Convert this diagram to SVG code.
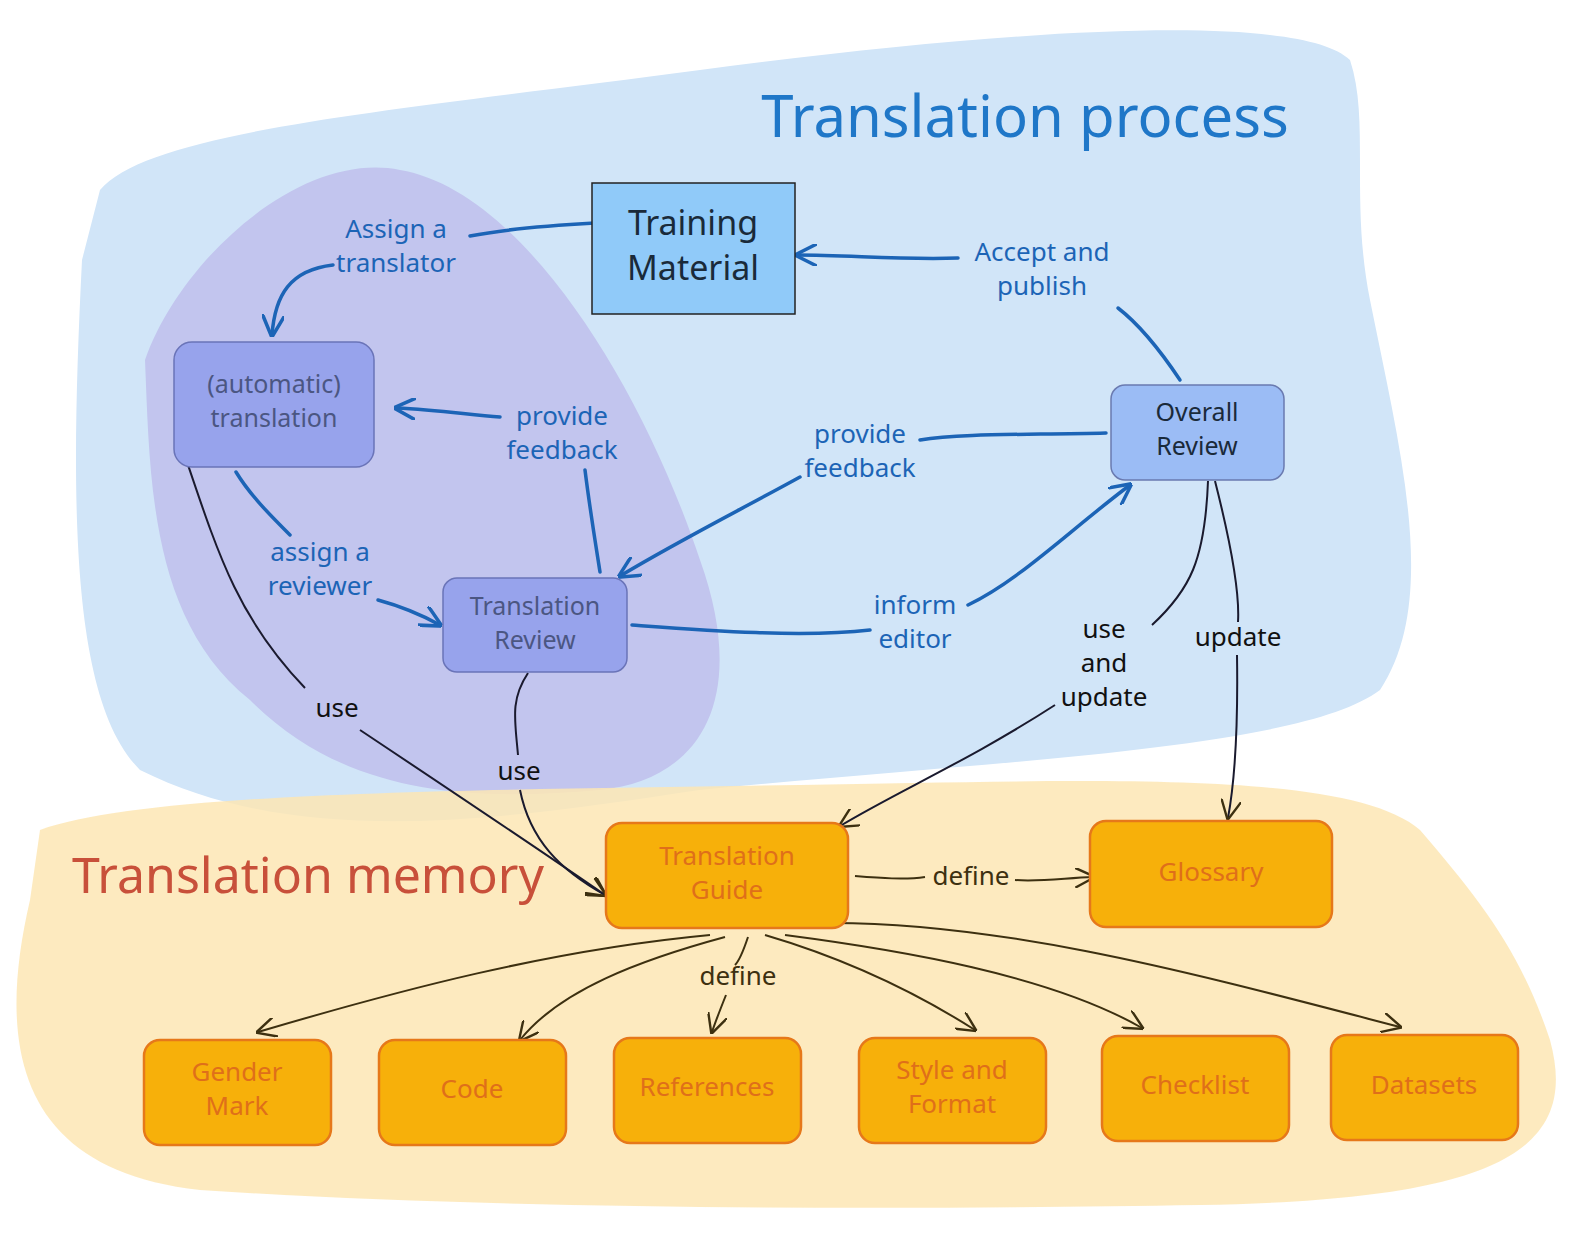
<svg xmlns="http://www.w3.org/2000/svg" width="1588" height="1235" viewBox="0 0 1588 1235">
<style>
text{font-family:"Noto Sans","Open Sans",sans-serif;text-anchor:middle}
.bl{fill:none;stroke:#1c64b6;stroke-width:3.5;stroke-linecap:round}
.dk{fill:none;stroke:#1a1a2e;stroke-width:2}
.br{fill:none;stroke:#3d3010;stroke-width:2}
.lb{font-size:26px;fill:#1c64b6}
.ld{font-size:26px;fill:#111}
.lbr{font-size:26px;fill:#3d3010}
.on rect{fill:#f7b00a;stroke:#e6781a;stroke-width:2.5}
.on text{font-size:26px;fill:#df6f1a}
</style>
<defs>
<marker id="ab" viewBox="0 0 10 10" refX="9" refY="5" markerWidth="22" markerHeight="22" orient="auto" markerUnits="userSpaceOnUse"><path d="M0,0 L10,5 L0,10" fill="none" stroke="#1c64b6" stroke-width="1.6" stroke-linecap="round"/></marker>
<marker id="ad" viewBox="0 0 10 10" refX="9" refY="5" markerWidth="20" markerHeight="20" orient="auto" markerUnits="userSpaceOnUse"><path d="M0,0 L10,5 L0,10" fill="none" stroke="#3d3010" stroke-width="1.2"/></marker>
</defs>
<g id="areas">
<path d="M100,190 C150,130 400,110 700,70 C1000,30 1300,10 1350,60 C1370,120 1350,200 1370,300 C1400,450 1440,600 1380,690 C1300,750 1000,760 700,790 C500,820 300,850 140,770 C70,700 70,500 82,260 Z" fill="#d1e5f8"/>
<path d="M145,360 C180,260 300,150 400,170 C520,190 640,380 700,560 C750,700 700,780 600,790 C480,800 350,800 250,700 C150,620 150,480 145,360 Z" fill="#c2c5ee"/>
<path d="M40,830 C150,790 500,790 800,785 C1100,780 1350,770 1420,830 C1480,900 1520,950 1550,1040 C1580,1150 1500,1200 1200,1205 C900,1210 500,1210 200,1190 C20,1170 -5,1050 30,900 Z" fill="#fde6b4" opacity="0.85"/>
<text x="1025" y="137" style="font-size:58px;fill:#1f77c8">Translation process</text>
<text x="308" y="893" style="font-size:50px;fill:#c8503a">Translation memory</text>
</g>
<g id="connectors">
<path class="bl" d="M595,223 C540,226 500,230 470,236" />
<path class="bl" d="M333,265 C290,270 275,295 272,335" marker-end="url(#ab)"/>
<path class="bl" d="M958,258 C900,260 850,255 797,255" marker-end="url(#ab)"/>
<path class="bl" d="M1180,380 C1160,350 1140,325 1118,308"/>
<path class="bl" d="M1106,433 C1030,435 960,433 920,440"/>
<path class="bl" d="M800,477 C740,510 680,540 620,576" marker-end="url(#ab)"/>
<path class="bl" d="M600,572 C595,540 590,510 585,470"/>
<path class="bl" d="M500,417 C470,415 440,410 396,408" marker-end="url(#ab)"/>
<path class="bl" d="M236,472 C250,495 270,515 290,535"/>
<path class="bl" d="M378,600 C400,606 420,614 440,625" marker-end="url(#ab)"/>
<path class="bl" d="M632,625 C700,630 800,638 870,630"/>
<path class="bl" d="M968,605 C1020,580 1070,530 1130,485" marker-end="url(#ab)"/>
<path class="dk" d="M187,462 C220,560 240,620 305,688"/>
<path class="dk" d="M360,730 C450,790 540,850 605,895" marker-end="url(#ad)"/>
<path class="dk" d="M528,673 C510,700 515,720 518,755"/>
<path class="dk" d="M520,790 C530,840 560,870 605,895" marker-end="url(#ad)"/>
<path class="dk" d="M1208,481 C1205,560 1190,590 1152,625"/>
<path class="dk" d="M1055,705 C970,760 900,790 840,826" marker-end="url(#ad)"/>
<path class="dk" d="M1215,481 C1230,540 1240,590 1238,622"/>
<path class="dk" d="M1237,655 C1238,720 1235,780 1228,818" marker-end="url(#ad)"/>
<path class="br" d="M855,876 C880,878 905,880 925,877"/>
<path class="br" d="M1015,880 C1040,882 1065,878 1093,877" marker-end="url(#ad)"/>
<path class="br" d="M710,935 C550,950 400,990 258,1032" marker-end="url(#ad)"/>
<path class="br" d="M725,937 C640,960 560,990 520,1040" marker-end="url(#ad)"/>
<path class="br" d="M748,937 C742,955 738,962 735,965"/>
<path class="br" d="M726,995 C720,1010 716,1020 712,1032" marker-end="url(#ad)"/>
<path class="br" d="M765,935 C850,960 920,995 975,1030" marker-end="url(#ad)"/>
<path class="br" d="M785,935 C900,950 1050,975 1142,1028" marker-end="url(#ad)"/>
<path class="br" d="M818,923 C1000,920 1200,975 1400,1027" marker-end="url(#ad)"/>
<text class="lb" x="396" y="238">Assign a</text><text class="lb" x="396" y="272">translator</text>
<text class="lb" x="1042" y="261">Accept and</text><text class="lb" x="1042" y="295">publish</text>
<text class="lb" x="860" y="443">provide</text><text class="lb" x="860" y="477">feedback</text>
<text class="lb" x="562" y="425">provide</text><text class="lb" x="562" y="459">feedback</text>
<text class="lb" x="320" y="561">assign a</text><text class="lb" x="320" y="595">reviewer</text>
<text class="lb" x="915" y="614">inform</text><text class="lb" x="915" y="648">editor</text>
<text class="ld" x="337" y="717">use</text>
<text class="ld" x="519" y="780">use</text>
<text class="ld" x="1104" y="638">use</text><text class="ld" x="1104" y="672">and</text><text class="ld" x="1104" y="706">update</text>
<text class="ld" x="1238" y="646">update</text>
<text class="lbr" x="971" y="885">define</text>
<text class="lbr" x="738" y="985">define</text>
</g>
<g id="training-material"><rect x="592" y="183" width="203" height="131" fill="#90caf9" stroke="#222" stroke-width="1.5"/><text x="693" y="235" style="font-size:34px;fill:#1a2a3a">Training</text><text x="693" y="280" style="font-size:34px;fill:#1a2a3a">Material</text></g>
<g id="automatic-translation"><rect x="174" y="342" width="200" height="125" rx="18" fill="#97a3ec" stroke="#6a74b8" stroke-width="1.5"/><text x="274" y="393" style="font-size:25px;fill:#4b5682">(automatic)</text><text x="274" y="427" style="font-size:25px;fill:#4b5682">translation</text></g>
<g id="translation-review"><rect x="443" y="578" width="184" height="94" rx="14" fill="#97a3ec" stroke="#6a74b8" stroke-width="1.5"/><text x="535" y="615" style="font-size:25px;fill:#4b5682">Translation</text><text x="535" y="649" style="font-size:25px;fill:#4b5682">Review</text></g>
<g id="overall-review"><rect x="1111" y="385" width="173" height="95" rx="14" fill="#9bbcf5" stroke="#6a7ab0" stroke-width="1.5"/><text x="1197" y="421" style="font-size:25px;fill:#1a2a3a">Overall</text><text x="1197" y="455" style="font-size:25px;fill:#1a2a3a">Review</text></g>
<g id="translation-guide" class="on"><rect x="606" y="823" width="242" height="105" rx="16"/><text x="727" y="865">Translation</text><text x="727" y="899">Guide</text></g>
<g id="glossary" class="on"><rect x="1090" y="821" width="242" height="106" rx="16"/><text x="1211" y="881">Glossary</text></g>
<g id="gender-mark" class="on"><rect x="144" y="1040" width="187" height="105" rx="16"/><text x="237" y="1081">Gender</text><text x="237" y="1115">Mark</text></g>
<g id="code" class="on"><rect x="379" y="1040" width="187" height="105" rx="16"/><text x="472" y="1098">Code</text></g>
<g id="references" class="on"><rect x="614" y="1038" width="187" height="105" rx="16"/><text x="707" y="1096">References</text></g>
<g id="style-and-format" class="on"><rect x="859" y="1038" width="187" height="105" rx="16"/><text x="952" y="1079">Style and</text><text x="952" y="1113">Format</text></g>
<g id="checklist" class="on"><rect x="1102" y="1036" width="187" height="105" rx="16"/><text x="1195" y="1094">Checklist</text></g>
<g id="datasets" class="on"><rect x="1331" y="1035" width="187" height="105" rx="16"/><text x="1424" y="1094">Datasets</text></g>
</svg>
